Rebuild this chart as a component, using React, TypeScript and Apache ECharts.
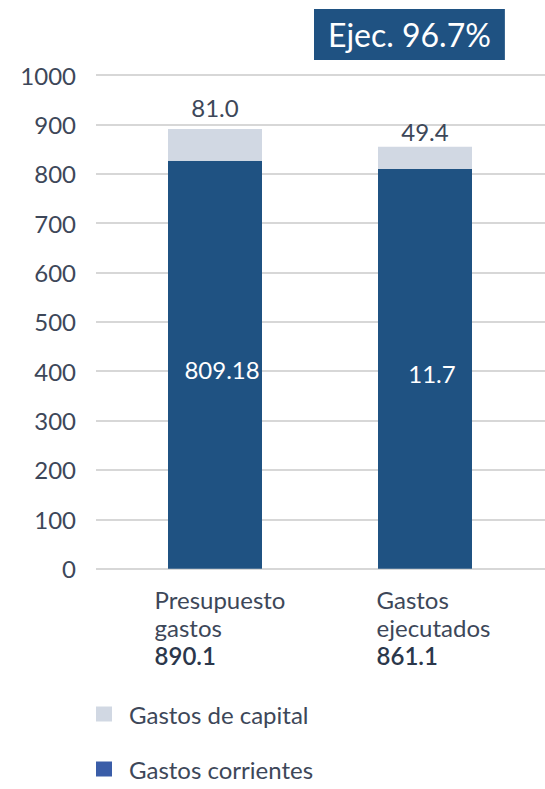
import React, { useEffect, useRef } from "react";
import * as echarts from "echarts";

const categories = ["Presupuesto\ngastos", "Gastos\nejecutados"];
const totals = ["890.1", "861.1"];
const corrientes = [826.5, 809.6];
const capital = [64.1, 45.2];
const corrientesLabels = ["809.18", "11.7"];
const capitalLabels = ["81.0", "49.4"];
const yTicks = [0, 100, 200, 300, 400, 500, 600, 700, 800, 900, 1000];
const titleText = "Ejec. 96.7%";

const DARK = "#1f5282";
const LIGHT = "#d1d8e3";
const LEGEND_BLUE = "#3a5da8";
const TEXT = "#3d4759";
const FONT = 'Lato, "Open Sans", sans-serif';
const FS = 24;

export default function App() {
  const ref = useRef<HTMLDivElement>(null);
  useEffect(() => {
    if (!ref.current) return;
    const chart = echarts.init(ref.current, undefined, { renderer: "svg" });
    const labelPad = [10, 17];
    const capDist = [10, 3];
    const rich: any = {};
    ["a", "b"].forEach((s, i) => {
      rich[s] = { fontSize: FS, color: TEXT, lineHeight: 28, align: "left", padding: [0, 0, 0, labelPad[i]], fontFamily: FONT };
      rich[s + "b"] = { fontSize: FS, color: "#2b374b", fontWeight: 600, lineHeight: 28, align: "left", padding: [0, 0, 0, labelPad[i]], fontFamily: FONT };
    });
    chart.setOption({
      animation: false,
      textStyle: { fontFamily: FONT },
      title: {
        text: titleText,
        left: 314,
        top: 9,
        padding: [6, 14, 6, 14],
        backgroundColor: DARK,
        textStyle: {
          color: "#ffffff",
          fontSize: 32,
          fontWeight: "normal",
          fontFamily: FONT,
          lineHeight: 39,
        },
      },
      legend: {
        orient: "vertical",
        left: 96,
        top: 702,
        padding: 0,
        itemWidth: 16,
        itemHeight: 15,
        itemGap: 31,
        icon: "rect",
        textStyle: {
          fontSize: FS,
          color: TEXT,
          fontFamily: FONT,
          padding: [0, 0, 0, 12],
        },
        data: [
          { name: "Gastos de capital", itemStyle: { color: LIGHT } },
          { name: "Gastos corrientes", itemStyle: { color: LEGEND_BLUE } },
        ],
      },
      grid: [
        { left: 110, right: 15, top: 75, bottom: 220.3 },
        { left: 96, right: 0, top: 75, bottom: 220.3 },
      ],
      xAxis: [
        {
          type: "category",
          gridIndex: 0,
          data: categories,
          axisLine: { show: false },
          axisTick: { show: false },
          axisLabel: {
            margin: 17,
            interval: 0,
            formatter: (value: string, idx: number) => {
              const s = idx === 0 ? "a" : "b";
              const lines = value.split("\n").map((l) => `{${s}|${l}}`);
              lines.push(`{${s}b|${totals[idx]}}`);
              return lines.join("\n");
            },
            rich,
          },
        },
        {
          type: "category",
          gridIndex: 1,
          data: categories,
          show: false,
        },
      ],
      yAxis: [
        {
          type: "value",
          gridIndex: 0,
          min: yTicks[0],
          max: yTicks[yTicks.length - 1],
          interval: 100,
          show: false,
          splitLine: { show: false },
        },
        {
          type: "value",
          gridIndex: 1,
          min: yTicks[0],
          max: yTicks[yTicks.length - 1],
          interval: 100,
          axisLine: { show: false },
          axisTick: { show: false },
          axisLabel: {
            fontSize: FS,
            color: TEXT,
            margin: 20,
            fontFamily: FONT,
            formatter: (v: number) => String(v),
          },
          splitLine: { lineStyle: { color: "#cacaca", width: 1.5 } },
        },
      ],
      series: [
        {
          name: "Gastos corrientes",
          type: "bar",
          stack: "total",
          xAxisIndex: 0,
          yAxisIndex: 0,
          barWidth: 94,
          itemStyle: { color: DARK },
          data: corrientes,
          label: {
            show: true,
            position: "inside",
            offset: [7, 5],
            color: "#ffffff",
            fontSize: FS,
            fontFamily: FONT,
            formatter: (p: any) => corrientesLabels[p.dataIndex],
          },
        },
        {
          name: "Gastos de capital",
          type: "bar",
          stack: "total",
          xAxisIndex: 0,
          yAxisIndex: 0,
          barWidth: 94,
          itemStyle: { color: LIGHT },
          data: capital.map((v, i) => ({ value: v, label: { distance: capDist[i] } })),
          label: {
            show: true,
            position: "top",
            color: TEXT,
            fontSize: FS,
            fontFamily: FONT,
            formatter: (p: any) => capitalLabels[p.dataIndex],
          },
        },
      ],
    });
    return () => chart.dispose();
  }, []);
  return <div ref={ref} style={{ width: 545, height: 789, position: "absolute", left: 0, top: 0 }} />;
}
